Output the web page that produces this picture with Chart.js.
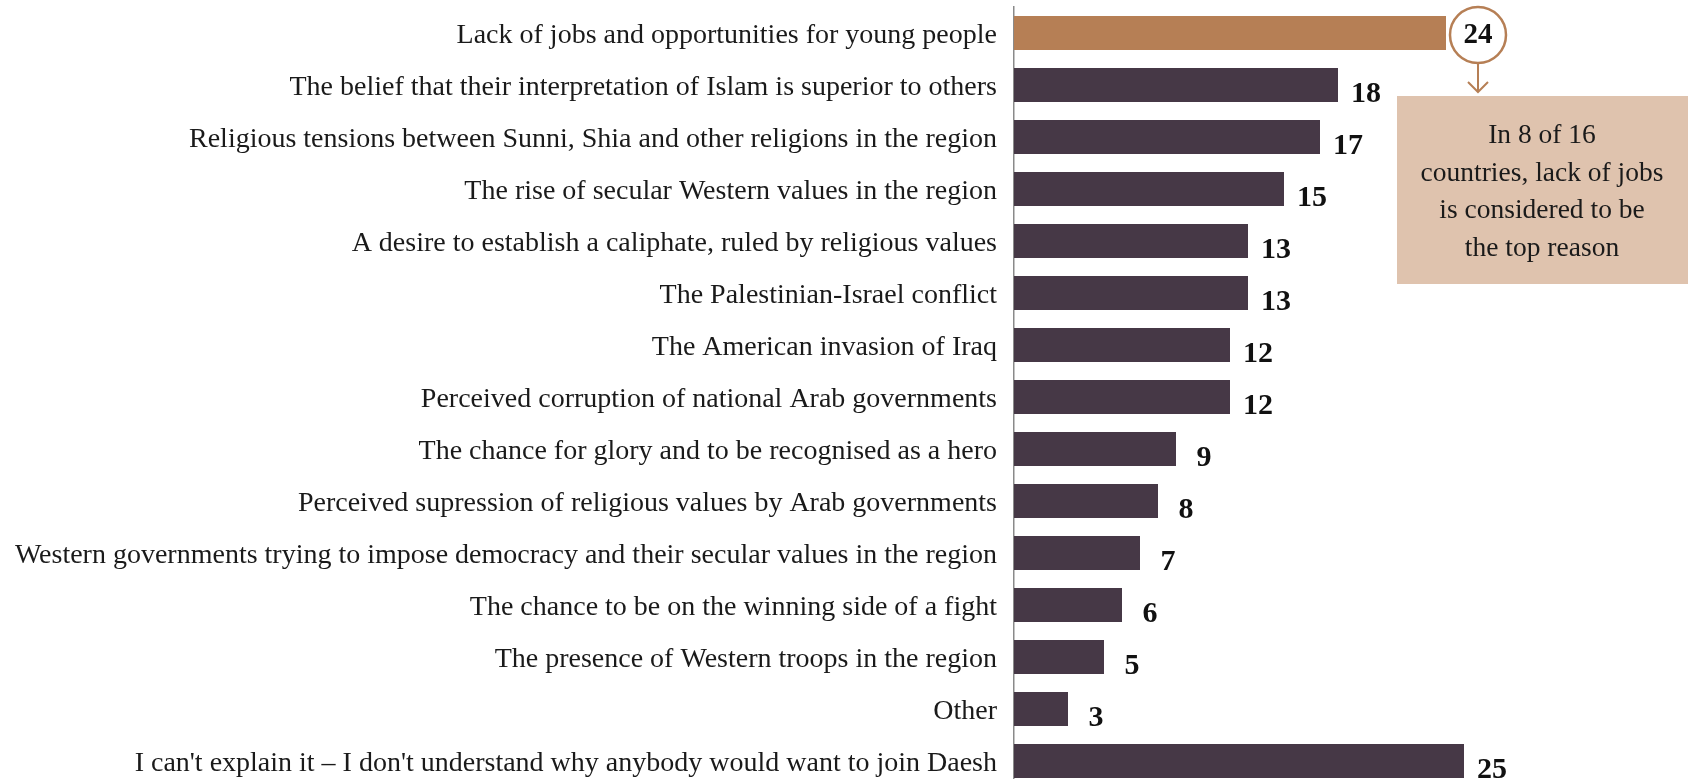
<!DOCTYPE html>
<html>
<head>
<meta charset="utf-8">
<script src="https://cdn.jsdelivr.net/npm/chart.js@4.4.1/dist/chart.umd.min.js"></script>
<style>
  html, body { margin: 0; padding: 0; background: #fff; overflow: hidden; }
  canvas { display: block; }
</style>
</head>
<body>
<canvas id="myChart" width="1688" height="790"></canvas>
<script>
const reasons = [
  "Lack of jobs and opportunities for young people",
  "The belief that their interpretation of Islam is superior to others",
  "Religious tensions between Sunni, Shia and other religions in the region",
  "The rise of secular Western values in the region",
  "A desire to establish a caliphate, ruled by religious values",
  "The Palestinian-Israel conflict",
  "The American invasion of Iraq",
  "Perceived corruption of national Arab governments",
  "The chance for glory and to be recognised as a hero",
  "Perceived supression of religious values by Arab governments",
  "Western governments trying to impose democracy and their secular values in the region",
  "The chance to be on the winning side of a fight",
  "The presence of Western troops in the region",
  "Other",
  "I can't explain it \u2013 I don't understand why anybody would want to join Daesh",
];
const percentages = [24, 18, 17, 15, 13, 13, 12, 12, 9, 8, 7, 6, 5, 3, 25];
const noteLines = ["In 8 of 16", "countries, lack of jobs", "is considered to be", "the top reason"];

const orange = "#b67f55";
const plum = "#463846";
const serif = "'Liberation Serif', 'DejaVu Serif', serif";

// value labels, the circled top value and the note box
const annotate = {
  id: "annotate",
  afterDatasetsDraw(chart) {
    const ctx = chart.ctx;
    const bars = chart.getDatasetMeta(0).data;
    ctx.save();
    ctx.fillStyle = "#111";
    ctx.font = "bold 30px " + serif;
    ctx.textAlign = "center";
    ctx.textBaseline = "middle";
    bars.forEach((bar, i) => {
      if (i === 0) return;
      ctx.fillText(percentages[i], bar.x + 28, bar.y + 9);
    });

    // circle round the first value
    const top = bars[0];
    const cx = top.x + 32;
    const cy = top.y + 2;
    const r = 28;
    ctx.beginPath();
    ctx.arc(cx, cy, r, 0, Math.PI * 2);
    ctx.fillStyle = "#fff";
    ctx.fill();
    ctx.lineWidth = 2.5;
    ctx.strokeStyle = orange;
    ctx.stroke();
    ctx.fillStyle = "#111";
    ctx.font = "bold 29px " + serif;
    ctx.fillText(percentages[0], cx, cy + 1);

    // arrow down to the note
    ctx.beginPath();
    ctx.moveTo(cx, cy + r);
    ctx.lineTo(cx, cy + 57);
    ctx.moveTo(cx - 10, cy + 47);
    ctx.lineTo(cx, cy + 57);
    ctx.lineTo(cx + 10, cy + 47);
    ctx.lineWidth = 2;
    ctx.stroke();

    // note box
    const boxL = 1397, boxT = 96;
    ctx.fillStyle = "#dfc3ae";
    ctx.fillRect(boxL, boxT, chart.width - boxL, 188);
    ctx.fillStyle = "#1a1a1a";
    ctx.font = "27.5px " + serif;
    noteLines.forEach((line, k) => {
      ctx.fillText(line, 1542, 136 + k * 37.5);
    });
    ctx.restore();
  },
};

const data = {
  labels: reasons,
  datasets: [
    {
      data: percentages,
      backgroundColor: percentages.map((v, i) => (i === 0 ? orange : plum)),
      barPercentage: 0.654,
      categoryPercentage: 1,
    },
  ],
};

const config = {
  type: "bar",
  data: data,
  options: {
    indexAxis: "y",
    responsive: false,
    animation: false,
    layout: {
      padding: { top: 7, bottom: 3, left: 0, right: 134 },
    },
    plugins: {
      legend: { display: false },
      tooltip: { enabled: false },
    },
    scales: {
      x: {
        display: false,
        min: 0,
        max: 30,
      },
      y: {
        afterFit: (scale) => {
          scale.width = 1014;
          scale.paddingTop = 0;
          scale.paddingBottom = 0;
        },
        grid: { display: false, drawTicks: false },
        border: { display: true, color: "#8a8a8a", width: 1.5 },
        ticks: {
          padding: 17,
          labelOffset: 3,
          color: "#1a1a1a",
          font: { family: serif, size: 28 },
        },
      },
    },
  },
  plugins: [annotate],
};

var myChart = new Chart(document.getElementById("myChart"), config);
</script>
</body>
</html>
